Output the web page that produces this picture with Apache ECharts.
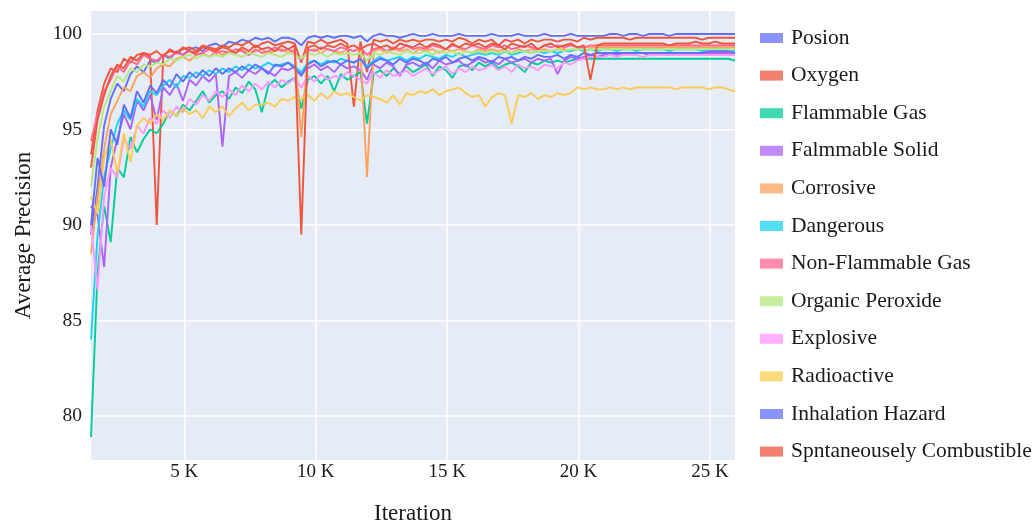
<!DOCTYPE html>
<html>
<head>
<meta charset="utf-8">
<script src="https://cdn.jsdelivr.net/npm/echarts@6/dist/echarts.min.js"></script>
<style>html,body{margin:0;padding:0;background:#fff;}#chart{width:1035px;height:524px;}</style>
</head>
<body>
<div id="chart"></div>
<script>
const iterations = [1450,1700,1950,2200,2450,2700,2950,3200,3450,3700,
3950,4200,4450,4700,4950,5200,5450,5700,5950,6200,
6450,6700,6950,7200,7450,7700,7950,8200,8450,8700,
8950,9200,9450,9700,9950,10200,10450,10700,10950,11200,
11450,11700,11950,12200,12450,12700,12950,13200,13450,13700,
13950,14200,14450,14700,14950,15200,15450,15700,15950,16200,
16450,16700,16950,17200,17450,17700,17950,18200,18450,18700,
18950,19200,19450,19700,19950,20200,20450,20700,20950,21200,
21450,21700,21950,22200,22450,22700,22950,23200,23450,23700,
23950,24200,24450,24700,24950,25200,25450,25700,25950];

const xTickValues = [5000,10000,15000,20000,25000];
const yTickValues = [80,85,90,95,100];

const seriesNames = ["Posion","Oxygen","Flammable Gas","Falmmable Solid","Corrosive","Dangerous","Non-Flammable Gas","Organic Peroxide","Explosive","Radioactive","Inhalation Hazard","Spntaneousely Combustible"];
const seriesColors = ["#636EFA","#EF553B","#00CC96","#AB63FA","#FFA15A","#19D3F3","#FF6692","#B6E880","#FF97FF","#FECB52","#636EFA","#EF553B"];

const posion = [89.5,92.0,95.2,96.6,97.4,97.0,97.9,98.3,98.0,98.6,
98.5,98.9,98.7,99.1,98.9,99.2,99.3,99.1,99.4,99.5,
99.3,99.6,99.5,99.7,99.6,99.8,99.7,99.8,99.6,99.8,
99.8,99.7,99.4,99.8,99.9,99.8,99.9,99.8,99.9,99.9,
99.8,99.9,99.6,99.9,100.0,99.9,99.9,99.8,99.9,100.0,
99.9,99.9,100.0,99.9,99.9,99.9,100.0,99.9,99.9,99.9,
99.9,100.0,99.9,99.9,99.9,100.0,99.9,99.9,99.9,100.0,
99.9,99.9,99.9,100.0,99.9,99.9,99.9,99.9,99.9,100.0,
100.0,99.9,100.0,100.0,99.9,100.0,100.0,100.0,99.9,100.0,
100.0,100.0,100.0,100.0,100.0,100.0,100.0,100.0,100.0];

const oxygen = [93.7,96.0,97.4,98.2,98.0,98.7,98.5,98.9,99.0,98.8,
90.0,98.9,99.1,99.0,99.2,99.3,99.1,99.4,99.3,99.2,
99.4,99.3,99.5,99.4,99.6,99.3,99.5,99.6,99.4,99.5,
99.6,99.5,98.5,99.6,99.5,99.7,99.5,99.6,99.7,99.5,
96.2,99.6,98.0,99.7,99.6,99.7,99.5,99.7,99.6,99.7,
99.6,99.7,99.7,99.6,99.7,99.6,99.8,99.7,99.5,99.7,
99.6,99.7,99.4,99.7,99.6,99.7,99.5,99.7,99.6,99.7,
99.7,99.6,99.7,99.7,99.6,99.8,99.7,99.8,99.8,99.8,
99.8,99.8,99.7,99.8,99.8,99.8,99.8,99.8,99.8,99.8,
99.8,99.8,99.8,99.7,99.8,99.8,99.8,99.8,99.8];

const flammableGas = [78.9,87.5,91.0,89.1,93.0,92.5,94.6,93.8,94.5,95.0,
94.8,95.3,96.0,95.7,96.3,96.0,96.5,97.0,96.4,96.8,
97.0,96.6,97.2,96.9,97.5,97.1,95.9,97.3,97.6,97.2,
97.5,97.7,96.1,97.6,97.8,97.4,97.8,97.0,97.9,97.6,
97.8,98.0,95.3,97.9,98.1,97.8,98.2,97.9,98.3,98.0,
98.2,98.4,97.8,98.3,98.1,97.7,98.3,98.4,98.1,98.5,
98.3,98.5,98.2,98.4,98.5,98.3,98.0,98.5,98.4,98.6,
98.5,98.6,98.5,98.6,98.7,98.7,98.7,98.7,98.7,98.7,
98.7,98.7,98.7,98.7,98.7,98.7,98.7,98.7,98.7,98.7,
98.7,98.7,98.7,98.7,98.7,98.7,98.7,98.7,98.6];

const flammableSolid = [91.0,90.5,87.8,93.0,94.5,95.8,95.0,96.5,96.0,96.8,
95.5,97.2,96.8,97.4,96.5,97.6,97.3,97.8,97.5,97.9,
94.1,97.8,98.0,97.7,98.1,97.9,98.2,98.0,97.8,98.2,
98.1,98.3,97.9,98.2,98.4,98.1,98.3,98.0,98.4,98.2,
98.3,98.1,97.6,98.4,98.2,98.5,98.3,97.8,98.4,98.5,
98.3,98.5,98.2,98.6,98.4,98.5,98.6,98.3,98.5,98.7,
98.5,98.6,98.4,98.7,98.5,98.6,98.7,98.5,98.7,98.6,
98.7,97.9,98.6,98.8,98.7,98.8,98.9,98.8,98.9,99.0,
98.9,99.0,98.9,99.0,99.0,98.9,99.0,99.0,99.0,99.0,
99.0,98.9,99.0,99.0,99.0,99.0,99.0,99.0,98.9];

const corrosive = [88.5,91.5,94.0,95.8,96.5,97.2,97.0,97.8,98.0,97.7,
98.2,98.4,98.3,98.7,98.8,98.6,98.9,99.0,98.8,99.1,
98.9,99.1,99.0,99.2,98.9,99.1,99.2,99.0,99.1,99.2,
99.0,99.2,94.6,99.1,99.2,99.0,99.2,99.1,99.0,99.2,
99.1,99.2,92.5,99.1,99.2,99.0,99.2,99.1,99.2,99.0,
99.2,99.1,99.2,99.0,99.2,99.1,99.2,99.1,99.0,99.2,
99.1,99.2,99.1,99.2,99.0,99.2,99.1,99.2,99.1,99.2,
99.1,99.2,99.2,99.1,99.2,99.3,99.3,99.3,99.3,99.3,
99.3,99.3,99.3,99.3,99.3,99.3,99.3,99.3,99.3,99.3,
99.3,99.3,99.3,99.3,99.3,99.3,99.3,99.3,99.3];

const dangerous = [84.0,89.5,92.5,94.0,95.3,96.0,95.5,96.6,96.2,97.0,
96.8,97.3,97.6,97.2,97.8,97.7,98.0,97.8,98.1,97.9,
98.2,98.0,98.3,98.1,98.4,98.2,98.3,98.5,98.3,98.4,
98.5,98.3,98.0,98.5,98.6,98.4,98.6,98.5,98.7,98.6,
98.5,98.7,98.3,98.6,98.8,98.6,98.7,98.8,98.6,98.8,
98.7,98.9,98.8,98.7,98.9,98.8,99.0,98.8,98.9,99.0,
98.9,99.0,98.9,99.1,98.9,99.0,99.1,99.0,99.1,99.0,
99.1,99.0,99.1,99.1,99.2,99.1,99.2,99.1,99.2,99.2,
99.1,99.2,99.2,99.1,99.2,99.2,99.2,99.2,99.1,99.2,
99.2,99.2,99.2,99.1,99.2,99.2,99.2,99.2,99.1];

const nonFlammableGas = [94.4,95.8,97.0,97.6,98.3,98.0,98.6,98.4,98.9,98.7,
98.6,98.9,98.8,99.0,98.9,99.1,98.9,99.0,99.2,99.0,
99.1,99.0,99.2,99.1,98.9,99.2,99.0,99.1,99.3,99.1,
99.2,99.0,98.6,99.2,99.1,99.3,99.2,99.1,99.3,99.2,
99.1,99.3,98.9,99.2,99.3,99.1,99.3,99.2,99.4,99.2,
99.3,99.2,99.4,99.3,99.2,99.4,99.3,99.2,99.4,99.3,
99.2,99.4,99.3,99.4,99.2,99.3,99.4,99.3,99.2,99.4,
99.3,99.4,99.3,99.4,99.3,99.3,99.4,99.4,99.4,99.4,
99.4,99.4,99.4,99.4,99.4,99.4,99.4,99.4,99.4,99.4,
99.4,99.4,99.4,99.4,99.4,99.4,99.4,99.4,99.4];

const organicPeroxide = [92.0,94.5,96.2,97.0,97.8,97.5,98.2,98.0,98.4,98.3,
98.5,98.4,98.7,98.6,98.8,98.9,98.7,98.9,98.8,98.9,
98.8,99.0,98.9,98.8,99.0,98.9,98.8,99.0,98.9,98.8,
99.0,98.9,98.7,99.0,98.9,99.0,98.8,99.0,98.9,99.0,
98.9,99.0,98.6,99.0,98.9,99.1,99.0,98.9,99.1,99.0,
99.0,99.1,98.9,99.1,99.0,99.1,98.9,99.1,99.0,99.1,
99.0,99.1,99.0,99.1,99.0,99.1,99.1,99.0,99.1,99.1,
99.1,99.2,99.1,99.2,99.2,99.2,99.2,99.2,99.2,99.2,
99.2,99.2,99.2,99.2,99.2,99.2,99.2,99.2,99.2,99.2,
99.2,99.2,99.2,99.2,99.2,99.2,99.2,99.2,99.2];

const explosive = [90.0,86.6,91.5,93.0,92.5,94.5,94.0,95.2,94.8,95.6,
95.3,96.0,95.6,96.2,95.9,96.6,96.3,96.8,96.5,97.0,
96.7,97.1,96.8,97.3,97.0,97.4,97.1,97.5,97.2,97.6,
97.4,97.7,97.2,97.8,97.5,97.9,97.6,97.8,97.7,98.0,
97.8,97.6,97.4,98.0,97.7,98.1,97.8,97.9,98.1,97.8,
98.0,98.2,97.9,98.1,98.3,97.9,98.2,98.0,98.3,98.1,
98.2,98.4,98.1,98.3,98.0,98.4,98.2,98.3,98.1,98.4,
98.3,98.2,98.5,98.4,98.6,98.7,98.8,98.8,98.8,98.9,
98.8,98.9,98.9,98.9,98.8,98.9,98.9,98.9,98.9,98.9,
98.9,98.9,98.9,98.9,98.9,98.9,98.9,98.9,98.9];

const radioactive = [91.5,90.6,93.5,94.5,92.7,94.8,93.3,95.2,95.6,95.3,
95.8,95.5,96.0,95.7,96.1,95.8,96.0,95.6,96.2,95.9,
96.2,95.7,96.1,96.4,96.0,96.3,96.3,96.4,96.2,96.6,
96.5,96.7,96.6,96.8,96.5,96.9,96.6,97.0,96.8,96.9,
96.7,96.5,96.8,96.7,96.6,96.4,96.8,96.3,96.9,96.8,
97.0,96.9,97.1,96.8,97.0,97.1,97.2,96.9,96.7,96.8,
96.2,96.7,96.9,96.8,95.3,96.8,96.7,96.9,96.6,96.8,
96.7,96.9,96.8,96.9,97.2,97.1,97.2,97.1,97.1,97.2,
97.1,97.2,97.1,97.2,97.2,97.2,97.2,97.2,97.2,97.1,
97.2,97.2,97.2,97.2,97.1,97.2,97.2,97.1,97.0];

const inhalationHazard = [90.0,93.5,92.0,95.0,94.2,96.3,95.6,97.0,96.4,97.3,
96.9,97.6,97.2,97.9,97.5,98.0,97.7,98.1,97.8,98.2,
97.9,98.2,98.0,98.3,98.1,98.4,98.2,97.9,98.4,98.3,
98.5,98.2,97.8,98.4,98.6,98.3,98.5,98.6,98.4,98.6,
98.5,98.7,98.2,98.5,98.7,98.6,98.4,98.7,98.5,98.7,
98.6,98.4,98.7,98.6,98.8,98.5,98.7,98.8,98.6,98.8,
98.7,98.5,98.8,98.7,98.8,98.6,98.8,98.7,98.9,98.8,
98.8,98.9,98.7,98.9,98.8,99.0,98.9,99.0,99.0,99.0,
99.0,99.0,99.0,99.0,99.0,99.0,99.0,99.0,99.0,99.0,
99.0,99.0,99.0,99.0,99.1,99.1,99.1,99.1,99.0];

const spontaneouslyCombustible = [93.0,95.5,96.8,97.8,98.4,98.2,98.8,98.6,99.0,98.9,
99.1,98.8,99.2,99.0,99.3,99.1,99.0,99.3,99.2,99.1,
99.3,99.2,99.0,99.3,99.1,99.4,99.2,99.3,99.1,99.4,
99.2,99.4,89.5,99.3,99.4,99.2,99.4,99.3,99.5,99.3,
99.4,99.2,99.4,99.5,99.3,99.4,99.2,99.5,99.4,99.3,
99.5,99.3,99.5,99.4,99.2,99.5,99.3,99.5,99.4,99.5,
99.3,99.5,99.4,99.2,99.5,99.4,99.3,99.5,99.2,99.4,
99.5,99.3,99.4,99.5,99.3,99.4,97.6,99.4,99.5,99.5,
99.5,99.5,99.5,99.5,99.5,99.5,99.5,99.5,99.4,99.5,
99.5,99.5,99.6,99.5,99.5,99.6,99.5,99.5,99.5];

const allValues = [posion, oxygen, flammableGas, flammableSolid, corrosive, dangerous,
  nonFlammableGas, organicPeroxide, explosive, radioactive, inhalationHazard, spontaneouslyCombustible];

const FONT = "'Liberation Serif','Times New Roman','DejaVu Serif',serif";
const TXT = '#1a1a1a';

const chart = echarts.init(document.getElementById('chart'), null, {renderer: 'canvas'});

const series = seriesNames.map((name, k) => ({
  name: name,
  type: 'line',
  data: iterations.map((x, i) => [x, allValues[k][i]]),
  showSymbol: false,
  symbol: 'none',
  lineStyle: {width: 1.9, color: seriesColors[k]},
  itemStyle: {color: seriesColors[k]},
  animation: false,
  z: 2 + k
}));

chart.setOption({
  backgroundColor: '#fff',
  animation: false,
  grid: {
    left: 91, right: 300, top: 11, bottom: 64,
    containLabel: false, outerBoundsMode: 'none',
    show: true, backgroundColor: '#E5ECF6', borderWidth: 0
  },
  xAxis: {
    type: 'value',
    min: iterations[0], max: iterations[iterations.length - 1],
    name: 'Iteration', nameLocation: 'middle', nameGap: 42,
    nameTextStyle: {fontFamily: FONT, fontSize: 23, color: TXT},
    axisLine: {show: false}, axisTick: {show: false, customValues: xTickValues},
    axisLabel: {
      customValues: xTickValues, fontFamily: FONT, fontSize: 19, color: TXT, margin: 3,
      formatter: v => (v / 1000) + ' K'
    },
    splitLine: {show: true, lineStyle: {color: '#fff', width: 1.5}}
  },
  yAxis: {
    type: 'value', min: 77.7, max: 101.2,
    name: 'Average Precision', nameLocation: 'middle', nameGap: 56, nameRotate: 90,
    nameTextStyle: {fontFamily: FONT, fontSize: 23, color: TXT},
    axisLine: {show: false}, axisTick: {show: false, customValues: yTickValues},
    axisLabel: {customValues: yTickValues, fontFamily: FONT, fontSize: 19.5, color: TXT, margin: 9},
    splitLine: {show: true, lineStyle: {color: '#fff', width: 1.5}}
  },
  legend: {
    orient: 'vertical', left: 755, top: 22,
    itemWidth: 23, itemHeight: 10, itemGap: 15.6,
    icon: 'rect',
    textStyle: {fontFamily: FONT, fontSize: 21.5, color: TXT, padding: [0, 0, 0, 3]},
    data: seriesNames.map((n, k) => ({name: n, itemStyle: {color: seriesColors[k], opacity: 0.75}}))
  },
  series: series
});
</script>
</body>
</html>
